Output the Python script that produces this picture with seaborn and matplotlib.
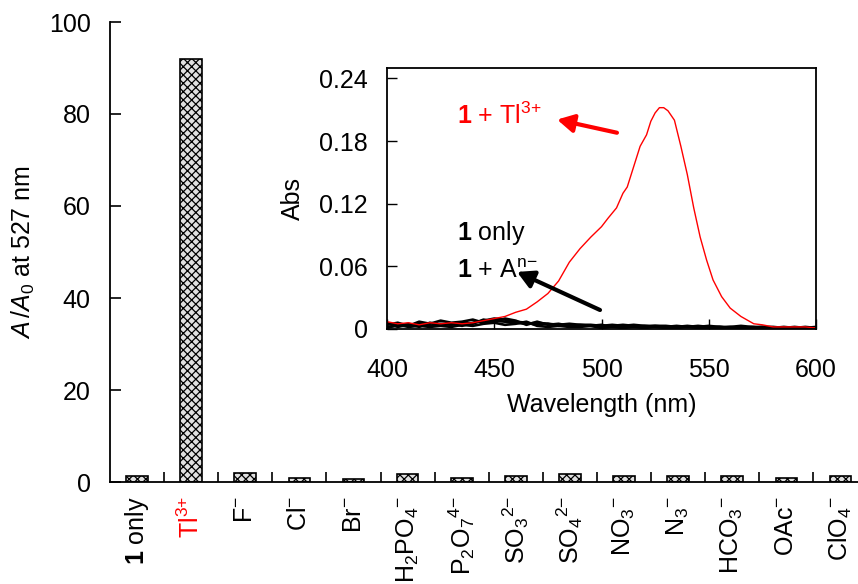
import matplotlib
matplotlib.use("Agg")
import matplotlib.pyplot as plt
import numpy as np
import pandas as pd
import seaborn as sns
from matplotlib.ticker import FixedLocator

# ---- bar chart data: A/A0 at 527 nm for probe 1 with each additive ----
categories = ["1 only", "Tl3+", "F-", "Cl-", "Br-", "H2PO4-", "P2O7 4-",
              "SO3 2-", "SO4 2-", "NO3-", "N3-", "HCO3-", "OAc-", "ClO4-"]
tick_labels = [r"$\mathbf{1}$ only", r"Tl$^{3{+}}$", r"F$^{{-}}$", r"Cl$^{{-}}$",
               r"Br$^{{-}}$", r"H$_2$PO$_4$$^{{-}}$", r"P$_2$O$_7$$^{4{-}}$",
               r"SO$_3$$^{2{-}}$", r"SO$_4$$^{2{-}}$", r"NO$_3$$^{{-}}$",
               r"N$_3$$^{{-}}$", r"HCO$_3$$^{{-}}$", r"OAc$^{{-}}$",
               r"ClO$_4$$^{{-}}$"]
ratio = [1.2, 92.0, 2.0, 0.8, 0.75, 1.65, 0.8, 1.2, 1.7, 1.2, 1.2, 1.2, 0.8, 1.2]
y_ticks = [0, 20, 40, 60, 80, 100]

# ---- inset: absorption spectra ----
wl_tl = [400, 405, 410, 415, 420, 425, 430, 435, 440, 445, 450, 455, 460, 465,
         470, 475, 480, 485, 490, 495, 500, 503, 507, 510, 512, 514, 516, 518,
         521, 523, 525, 527, 529, 531, 534, 537, 540, 543, 546, 549, 552, 556,
         560, 565, 571, 575, 580, 585, 590, 595, 600]
abs_tl = [0.007, 0.005, 0.006, 0.004, 0.006, 0.005, 0.006, 0.005, 0.006, 0.008,
          0.010, 0.012, 0.016, 0.019, 0.026, 0.034, 0.046, 0.064, 0.077, 0.088,
          0.098, 0.106, 0.116, 0.130, 0.136, 0.149, 0.162, 0.175, 0.186, 0.199,
          0.207, 0.212, 0.212, 0.209, 0.200, 0.175, 0.148, 0.116, 0.088, 0.066,
          0.047, 0.031, 0.020, 0.012, 0.005, 0.004, 0.002, 0.002, 0.002, 0.002,
          0.001]

wl_base = [400, 405, 410, 415, 420, 425, 430, 435, 440, 445,
           450, 455, 460, 465, 470, 475, 480, 485, 490, 495,
           500, 505, 510, 515, 520, 525, 530, 535, 540, 545,
           550, 555, 560, 565, 570, 575, 580, 585, 590, 595, 600]
abs_1only = [0.004, 0.006, 0.003, 0.007, 0.005, 0.008, 0.006, 0.007, 0.009, 0.006,
             0.008, 0.007, 0.006, 0.005, 0.006, 0.005, 0.004, 0.005, 0.004, 0.004,
             0.003, 0.004, 0.003, 0.004, 0.003, 0.003, 0.002, 0.003, 0.002, 0.003,
             0.002, 0.002, 0.002, 0.003, 0.002, 0.002, 0.002, 0.001, 0.002, 0.001,
             0.002]
abs_anion_a = [0.002, 0.003, 0.005, 0.002, 0.006, 0.004, 0.005, 0.003, 0.006, 0.008,
               0.010, 0.009, 0.007, 0.006, 0.004, 0.005, 0.003, 0.004, 0.003, 0.003,
               0.004, 0.002, 0.003, 0.002, 0.003, 0.002, 0.002, 0.002, 0.003, 0.002,
               0.001, 0.002, 0.001, 0.001, 0.002, 0.001, 0.001, 0.002, 0.001, 0.001,
               0.001]
abs_anion_b = [0.006, 0.002, 0.004, 0.005, 0.003, 0.005, 0.004, 0.006, 0.005, 0.009,
               0.007, 0.010, 0.008, 0.004, 0.007, 0.004, 0.005, 0.003, 0.004, 0.003,
               0.002, 0.003, 0.004, 0.003, 0.002, 0.003, 0.003, 0.002, 0.002, 0.002,
               0.003, 0.002, 0.001, 0.002, 0.001, 0.002, 0.001, 0.001, 0.001, 0.002,
               0.001]
abs_anion_c = [0.001, 0.004, 0.002, 0.003, 0.002, 0.003, 0.002, 0.004, 0.003, 0.005,
               0.006, 0.004, 0.005, 0.007, 0.003, 0.002, 0.003, 0.002, 0.002, 0.003,
               0.001, 0.002, 0.001, 0.002, 0.001, 0.002, 0.001, 0.001, 0.002, 0.001,
               0.001, 0.001, 0.002, 0.001, 0.001, 0.000, 0.001, 0.001, 0.000, 0.001,
               0.000]
inset_xticks = [400, 450, 500, 550, 600]
inset_yticks = [0, 0.06, 0.12, 0.18, 0.24]
inset_yticklabels = ["0", "0.06", "0.12", "0.18", "0.24"]

sns.set_style("white")
FS = 18
plt.rcParams.update({
    "font.family": ["Liberation Sans", "DejaVu Sans"],
    "font.size": FS,
    "text.color": "black",
    "axes.labelcolor": "black",
    "axes.edgecolor": "black",
    "xtick.color": "black",
    "ytick.color": "black",
    "mathtext.fontset": "custom",
    "mathtext.rm": "Liberation Sans",
    "mathtext.it": "Liberation Sans:italic",
    "mathtext.bf": "Liberation Sans:bold",
    "mathtext.sf": "Liberation Sans",
    "mathtext.default": "regular",
    "hatch.linewidth": 0.9,
    "axes.linewidth": 1.3,
})

fig = plt.figure(figsize=(8.58, 5.84), dpi=100)
ax = fig.add_axes([110 / 858, 102 / 584, 757.6 / 858, 460 / 584])

df = pd.DataFrame({"ion": categories, "ratio": ratio})
sns.barplot(data=df, x="ion", y="ratio", order=categories, width=0.4,
            color="white", saturation=1, edgecolor="black", linewidth=1.2,
            ax=ax)
for p in ax.patches:
    p.set_hatch("xxxx")
    p.set_facecolor("#e0e0e0")

ax.set_xlim(-0.5, 13.5)
ax.set_ylim(0, 100)
ax.set_yticks(y_ticks)
ax.set_xticks(range(len(categories)))
ax.set_xticklabels(tick_labels, rotation=90, fontsize=FS)
ax.get_xticklabels()[1].set_color("red")
ax.xaxis.set_minor_locator(FixedLocator([i + 0.5 for i in range(len(categories) - 1)]))
ax.tick_params(axis="x", which="major", length=0, pad=10)
ax.tick_params(axis="x", which="minor", direction="in", length=7, width=1.2, bottom=True)
ax.tick_params(axis="y", direction="in", length=8, width=1.2, pad=14, labelsize=FS, left=True)
for s in ("top", "right"):
    ax.spines[s].set_visible(False)
ax.set_xlabel("")
ax.set_ylabel(r"$\mathit{A}\,/\mathit{A}_{0}$ at 527 nm", fontsize=FS)
ax.yaxis.set_label_coords(-0.097, 0.5)

# ---- inset spectra ----
ins = fig.add_axes([387 / 858, 1 - 329 / 584, 429 / 858, 261 / 584])
for yvals in (abs_1only, abs_anion_a, abs_anion_b, abs_anion_c):
    sns.lineplot(x=wl_base, y=yvals, ax=ins, color="black", lw=1.9)
sns.lineplot(x=wl_tl, y=abs_tl, ax=ins, color="red", lw=1.0)

ins.set_xlim(400, 600)
ins.set_ylim(0, 0.25)
ins.set_xticks(inset_xticks)
ins.set_yticks(inset_yticks)
ins.set_yticklabels(inset_yticklabels)
ins.tick_params(axis="x", direction="in", length=7, width=1.0, pad=21, labelsize=FS, bottom=True)
ins.tick_params(axis="y", direction="in", length=7, width=1.0, pad=14, labelsize=FS, left=True)
for s in ins.spines.values():
    s.set_visible(True)
    s.set_linewidth(1.3)
    s.set_color("black")
ins.set_xlabel("Wavelength (nm)", fontsize=FS, labelpad=8)
ins.set_ylabel("Abs", fontsize=FS, labelpad=10)

ins.text(432.6, 0.196, r"$\mathbf{1}$ + Tl$^{3{+}}$", color="red", fontsize=FS, va="baseline")
ins.text(432.6, 0.0854, r"$\mathbf{1}$ only", color="black", fontsize=FS, va="baseline")
ins.text(432.6, 0.049, r"$\mathbf{1}$ + A$^{n{-}}$", color="black", fontsize=FS, va="baseline")
ins.annotate("", xy=(479.3, 0.2006), xytext=(507.2, 0.188),
             arrowprops=dict(arrowstyle="-|>,head_length=0.55,head_width=0.3",
                             lw=3, color="red", shrinkA=0, shrinkB=0))
ins.annotate("", xy=(460.6, 0.0547), xytext=(499.3, 0.0182),
             arrowprops=dict(arrowstyle="-|>,head_length=0.55,head_width=0.3",
                             lw=3, color="black", shrinkA=0, shrinkB=0))

fig.savefig("out.png", dpi=100)
